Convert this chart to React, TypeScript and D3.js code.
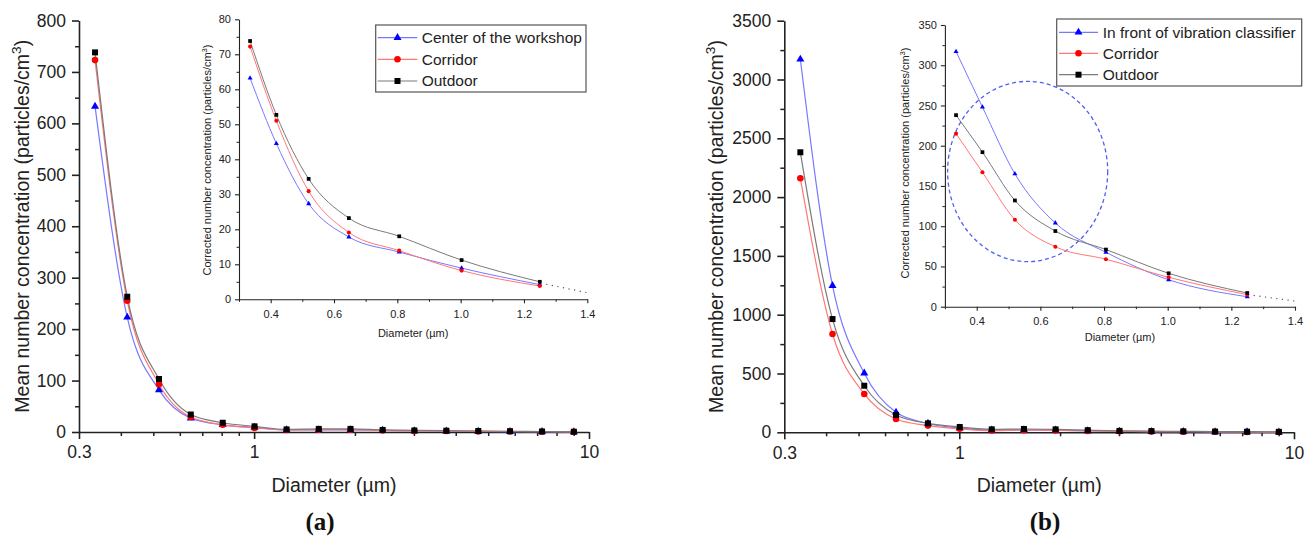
import React, { useEffect, useRef } from "react";
import * as d3 from "d3";

// optical particle counter channels (µm)
const diameters = [0.335, 0.418, 0.52, 0.647, 0.806, 1.003, 1.25, 1.56, 1.94, 2.42, 3.01, 3.75, 4.67, 5.81, 7.24, 9.01];
const insetDiameters = diameters.slice(0, 7);
const extensionX = [1.27, 1.4];

const namesA = ["Center of the workshop", "Corridor", "Outdoor"];
const namesB = ["In front of vibration classifier", "Corridor", "Outdoor"];

// (a) mean number concentration
const meanCenterA = [633, 223, 82, 27, 14, 9, 4, 4, 4, 3, 2, 1.5, 1, 0.8, 0.5, 0.3];
const meanCorridorA = [723, 255, 93, 29, 14, 8, 4, 4.5, 4.5, 3, 2, 2, 1, 1, 0.5, 0.3];
const meanOutdoorA = [738, 263, 103, 34, 18, 11, 5, 6, 6, 4, 3, 2.5, 2, 1.5, 1, 0.5];

// (a) corrected concentration (inset)
const corrCenterA = [63.2, 44.5, 27.3, 17.8, 13.5, 8.9, 4.2];
const corrCorridorA = [72.2, 51.0, 30.9, 19.1, 13.9, 8.2, 3.8];
const corrOutdoorA = [73.8, 52.7, 34.4, 23.2, 18.0, 11.2, 5.0];
const extensionA = [4.3, 1.9];

// (b) mean number concentration
const meanClassifierB = [3172, 1247, 502, 170, 75, 35, 18, 20, 18, 12, 8, 6, 5, 4, 3, 2];
const meanCorridorB = [2160, 836, 326, 113, 57, 30, 15, 18, 16, 11, 8, 6, 5, 4, 3, 2];
const meanOutdoorB = [2381, 963, 396, 147, 76, 45, 25, 28, 25, 18, 12, 10, 8, 6, 5, 4];

// (b) corrected concentration (inset)
const corrClassifierB = [317, 248, 165, 104, 67.6, 33.5, 12.4];
const corrCorridorB = [215, 167, 108, 74.5, 59, 36.5, 15];
const corrOutdoorB = [238, 192, 132, 94, 71, 41.5, 17];
const extensionB = [14, 7];

const FONT = "'Liberation Sans', Arial, Helvetica, sans-serif";

const styles = [
  { color: "#0000ff", line: "#7878ff", symbol: d3.symbolTriangle, main: 28, small: 11 },
  { color: "#ff0000", line: "#ff7878", symbol: d3.symbolCircle, main: 34, small: 13 },
  { color: "#000000", line: "#7a7a7a", symbol: d3.symbolSquare, main: 36, small: 14 },
];

const panels = [
  {
    tag: "(a)",
    tagX: 320,
    names: namesA,
    mean: [meanCenterA, meanCorridorA, meanOutdoorA],
    corr: [corrCenterA, corrCorridorA, corrOutdoorA],
    extension: extensionA,
    main: { x0: 79, x1: 589, yBase: 432, yTop: 20.5, yMax: 800, step: 100, labelX: 29 },
    inset: { x0: 239, x1: 587.3, yBase: 299.3, yTop: 19.3, yMax: 80, step: 10, labelX: 211, labelY: 160, xLabelY: 337 },
    legend: { x: 375.7, y: 25, w: 210.3, h: 67, rows: [37.7, 59.3, 81], l0: 377.7, l1: 417.3, tx: 421.7 },
    ellipse: null,
  },
  {
    tag: "(b)",
    tagX: 1045,
    names: namesB,
    mean: [meanClassifierB, meanCorridorB, meanOutdoorB],
    corr: [corrClassifierB, corrCorridorB, corrOutdoorB],
    extension: extensionB,
    main: { x0: 784.3, x1: 1294, yBase: 432.3, yTop: 20.7, yMax: 3500, step: 500, labelX: 723 },
    inset: { x0: 944.9, x1: 1295, yBase: 306.7, yTop: 25, yMax: 350, step: 50, labelX: 909, labelY: 163, xLabelY: 341 },
    legend: { x: 1056.7, y: 19, w: 245, h: 67, rows: [32.3, 53.3, 74.7], l0: 1059, l1: 1098, tx: 1102.7 },
    ellipse: { cx: 0.56, cy: 168, rx: 0.2515, ry: 112 },
  },
];

function styleAxis(g, width, size) {
  g.attr("font-family", FONT).attr("font-size", size);
  g.selectAll("path, line").attr("stroke", "#222").attr("stroke-width", width);
  g.selectAll("text").attr("fill", "#222");
}

function superLabel(text, before, size) {
  text.append("tspan").text(before);
  text.append("tspan").attr("dy", -size * 0.4).attr("font-size", size * 0.7).text("3");
  text.append("tspan").attr("dy", size * 0.4).text(")");
}

function drawPanel(svg, p) {
  const m = p.main;
  const x = d3.scaleLog().domain([0.3, 10]).range([m.x0, m.x1]);
  const y = d3.scaleLinear().domain([0, m.yMax]).range([m.yBase, m.yTop]);

  // main axes
  const yMinor = d3.range(m.step / 2, m.yMax, m.step);
  svg.append("g")
    .attr("transform", `translate(${m.x0},0)`)
    .call(d3.axisLeft(y).tickValues(yMinor).tickSize(4).tickFormat(() => ""))
    .call((g) => g.select(".domain").remove())
    .call((g) => styleAxis(g, 1.5, 17));
  svg.append("g")
    .attr("transform", `translate(${m.x0},0)`)
    .call(d3.axisLeft(y).tickValues(d3.range(0, m.yMax + 1, m.step)).tickSize(7).tickSizeOuter(0).tickPadding(6).tickFormat(d3.format("d")))
    .call((g) => styleAxis(g, 1.6, 17.5));

  const xMinor = [0.4, 0.5, 0.6, 0.7, 0.8, 0.9, 2, 3, 4, 5, 6, 7, 8, 9];
  svg.append("g")
    .attr("transform", `translate(0,${m.yBase})`)
    .call(d3.axisBottom(x).tickValues(xMinor).tickSize(4).tickFormat(() => ""))
    .call((g) => g.select(".domain").remove())
    .call((g) => styleAxis(g, 1.5, 17));
  svg.append("g")
    .attr("transform", `translate(0,${m.yBase})`)
    .call(d3.axisBottom(x).tickValues([0.3, 1, 10]).tickSize(7).tickSizeOuter(0).tickPadding(7).tickFormat((d) => String(d)))
    .call((g) => styleAxis(g, 1.6, 17.5));

  // main titles
  const yl = svg.append("text")
    .attr("transform", `translate(${m.labelX},${(m.yBase + m.yTop) / 2}) rotate(-90)`)
    .attr("text-anchor", "middle")
    .attr("font-family", FONT).attr("font-size", 19.5).attr("fill", "#222");
  superLabel(yl, "Mean number concentration (particles/cm", 19.5);
  svg.append("text")
    .attr("x", (m.x0 + m.x1) / 2).attr("y", 492)
    .attr("text-anchor", "middle")
    .attr("font-family", FONT).attr("font-size", 19.5).attr("fill", "#222")
    .text("Diameter (µm)");
  svg.append("text")
    .attr("x", p.tagX).attr("y", 530)
    .attr("text-anchor", "middle")
    .attr("font-family", "'Liberation Serif', 'Times New Roman', serif")
    .attr("font-weight", "bold").attr("font-size", 25).attr("fill", "#111")
    .text(p.tag);

  // main series
  const line = d3.line().x((d) => x(d[0])).y((d) => y(d[1])).curve(d3.curveMonotoneX);
  p.mean.forEach((vals, i) => {
    const s = styles[i];
    const pts = diameters.map((d, k) => [d, vals[k]]);
    svg.append("path").datum(pts)
      .attr("fill", "none").attr("stroke", s.line).attr("stroke-width", 1.2)
      .attr("d", line);
  });
  p.mean.forEach((vals, i) => {
    const s = styles[i];
    svg.append("g").selectAll("path")
      .data(diameters.map((d, k) => [d, vals[k]]))
      .join("path")
      .attr("transform", (d) => `translate(${x(d[0])},${y(d[1])})`)
      .attr("d", d3.symbol(s.symbol, s.main))
      .attr("fill", s.color);
  });

  // inset
  const n = p.inset;
  const xi = d3.scaleLinear().domain([0.3, 1.4]).range([n.x0, n.x1]);
  const yi = d3.scaleLinear().domain([0, n.yMax]).range([n.yBase, n.yTop]);

  svg.append("g")
    .attr("transform", `translate(${n.x0},0)`)
    .call(d3.axisLeft(yi).tickValues(d3.range(n.step / 2, n.yMax, n.step)).tickSize(2.5).tickFormat(() => ""))
    .call((g) => g.select(".domain").remove())
    .call((g) => styleAxis(g, 1, 11));
  svg.append("g")
    .attr("transform", `translate(${n.x0},0)`)
    .call(d3.axisLeft(yi).tickValues(d3.range(0, n.yMax + 1e-6, n.step)).tickSize(4).tickSizeOuter(0).tickPadding(4).tickFormat(d3.format("d")))
    .call((g) => styleAxis(g, 1.1, 11));
  svg.append("g")
    .attr("transform", `translate(0,${n.yBase})`)
    .call(d3.axisBottom(xi).tickValues([0.3, 0.5, 0.7, 0.9, 1.1, 1.3]).tickSize(2.5).tickFormat(() => ""))
    .call((g) => g.select(".domain").remove())
    .call((g) => styleAxis(g, 1, 11));
  svg.append("g")
    .attr("transform", `translate(0,${n.yBase})`)
    .call(d3.axisBottom(xi).tickValues([0.4, 0.6, 0.8, 1.0, 1.2, 1.4]).tickSize(4).tickSizeOuter(0).tickPadding(7).tickFormat(d3.format(".1f")))
    .call((g) => styleAxis(g, 1.1, 11));

  const iyl = svg.append("text")
    .attr("transform", `translate(${n.labelX},${n.labelY}) rotate(-90)`)
    .attr("text-anchor", "middle")
    .attr("font-family", FONT).attr("font-size", 11).attr("fill", "#222");
  superLabel(iyl, "Corrected number concentration (particles/cm", 11);
  svg.append("text")
    .attr("x", (n.x0 + n.x1) / 2).attr("y", n.xLabelY)
    .attr("text-anchor", "middle")
    .attr("font-family", FONT).attr("font-size", 11).attr("fill", "#222")
    .text("Diameter (µm)");

  if (p.ellipse) {
    const e = p.ellipse;
    svg.append("ellipse")
      .attr("cx", xi(e.cx)).attr("cy", yi(e.cy))
      .attr("rx", xi(e.cx + e.rx) - xi(e.cx)).attr("ry", yi(0) - yi(e.ry))
      .attr("fill", "none").attr("stroke", "#4f5ff2").attr("stroke-width", 1.3)
      .attr("stroke-dasharray", "4,3");
  }

  const lineI = d3.line().x((d) => xi(d[0])).y((d) => yi(d[1])).curve(d3.curveMonotoneX);
  svg.append("path")
    .datum(extensionX.map((d, k) => [d, p.extension[k]]))
    .attr("fill", "none").attr("stroke", "#555").attr("stroke-width", 1.2)
    .attr("stroke-dasharray", "1.2,4.5")
    .attr("d", lineI);
  p.corr.forEach((vals, i) => {
    const s = styles[i];
    svg.append("path").datum(insetDiameters.map((d, k) => [d, vals[k]]))
      .attr("fill", "none").attr("stroke", s.line).attr("stroke-width", 1)
      .attr("d", lineI);
  });
  p.corr.forEach((vals, i) => {
    const s = styles[i];
    svg.append("g").selectAll("path")
      .data(insetDiameters.map((d, k) => [d, vals[k]]))
      .join("path")
      .attr("transform", (d) => `translate(${xi(d[0])},${yi(d[1])})`)
      .attr("d", d3.symbol(s.symbol, s.small))
      .attr("fill", s.color);
  });

  // legend
  const L = p.legend;
  svg.append("rect")
    .attr("x", L.x).attr("y", L.y).attr("width", L.w).attr("height", L.h)
    .attr("fill", "white").attr("stroke", "#555").attr("stroke-width", 1.2);
  p.names.forEach((name, i) => {
    const s = styles[i];
    const ry = L.rows[i];
    svg.append("line")
      .attr("x1", L.l0).attr("x2", L.l1).attr("y1", ry).attr("y2", ry)
      .attr("stroke", s.line).attr("stroke-width", 1.2);
    svg.append("path")
      .attr("transform", `translate(${(L.l0 + L.l1) / 2},${ry})`)
      .attr("d", d3.symbol(s.symbol, s.main))
      .attr("fill", s.color);
    svg.append("text")
      .attr("x", L.tx).attr("y", ry).attr("dy", "0.35em")
      .attr("font-family", FONT).attr("font-size", 15.5).attr("fill", "#222")
      .text(name);
  });
}

export default function App() {
  const ref = useRef(null);

  useEffect(() => {
    const svg = d3.select(ref.current);
    svg.selectAll("*").remove();
    panels.forEach((p) => drawPanel(svg, p));
  }, []);

  return (
    <svg
      ref={ref}
      width={1313}
      height={548}
      style={{ position: "absolute", left: 0, top: 0, background: "white" }}
    />
  );
}
